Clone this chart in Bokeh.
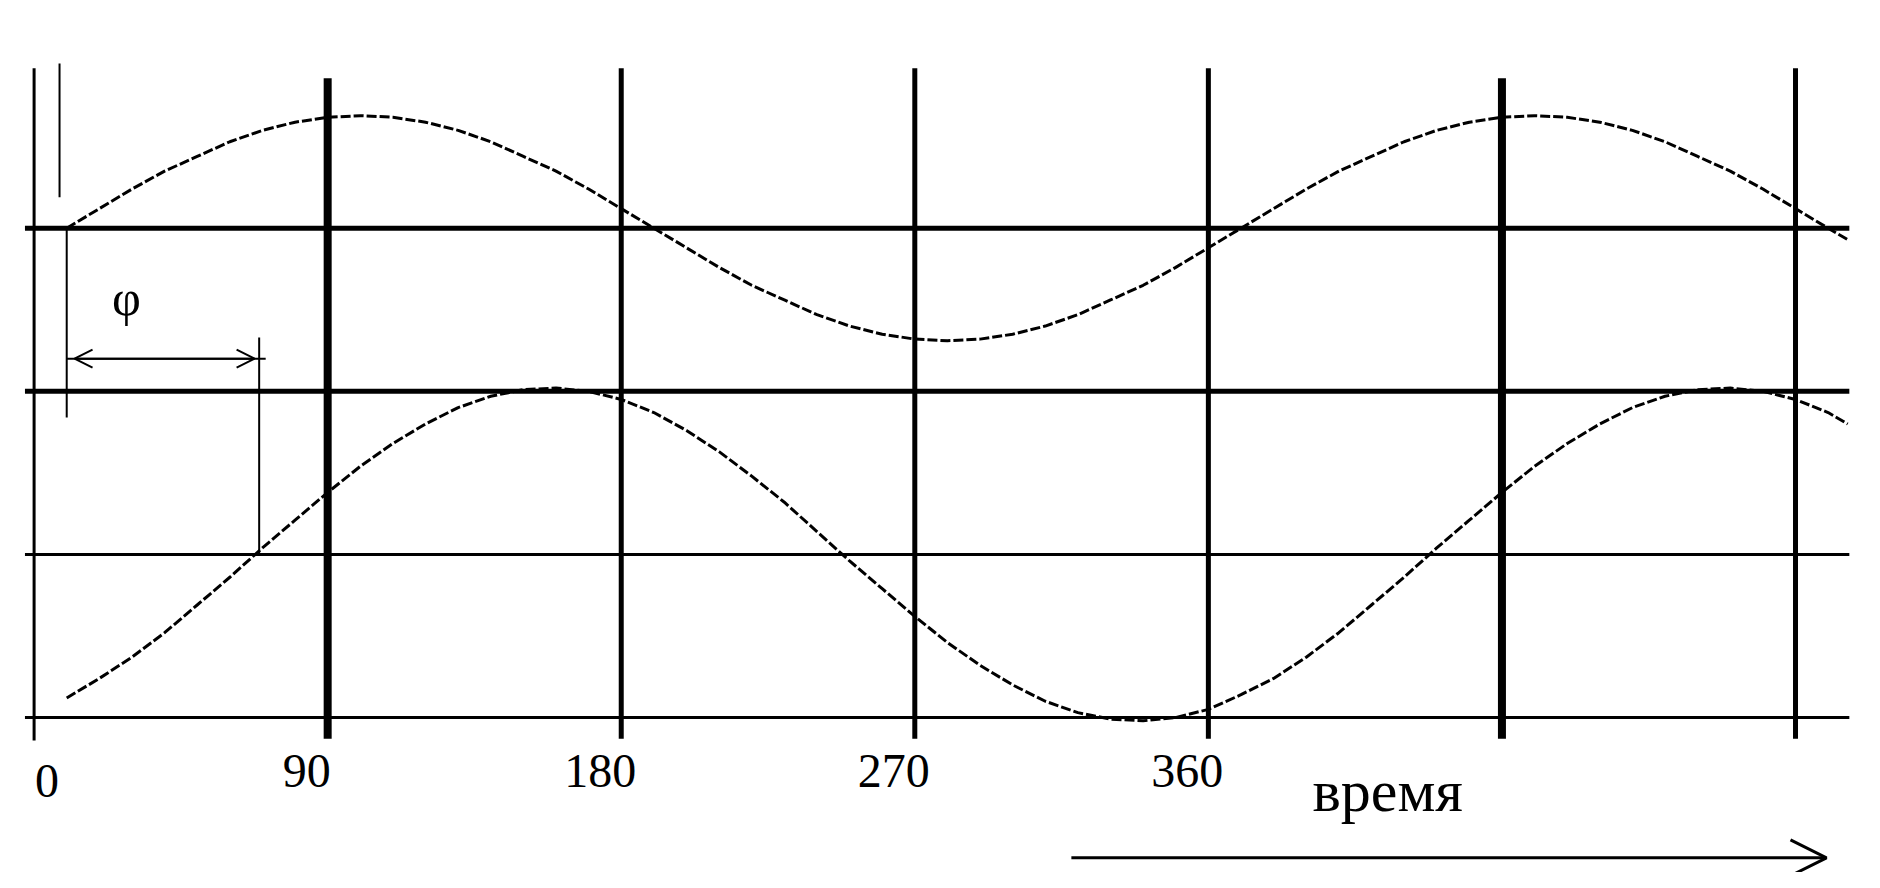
from bokeh.plotting import figure
from bokeh.models import Arrow, OpenHead, ColumnDataSource
from bokeh.core.properties import value
from bokeh.embed import file_html
from bokeh.resources import INLINE

# ---- data ----
# phase angle axis (degrees) with vertical grid lines
grid_degrees = [90, 180, 270, 360, 450, 540]
thick_degrees = [90, 450]
# horizontal reference levels
levels = [0, 1, 2, 3]
thick_levels = [2, 3]

tick_values = [0, 90, 180, 270, 360]
tick_labels = ["0", "90", "180", "270", "360"]

# upper wave (small amplitude, starts at ~10 degrees on level 3)
upper_x = [10, 20, 30, 40, 50, 60, 70, 80, 90, 100, 110, 120, 130, 140, 150,
           160, 170, 180, 190, 200, 210, 220, 230, 240, 250, 260, 270, 280,
           290, 300, 310, 320, 330, 340, 350, 360, 370, 380, 390, 400, 410,
           420, 430, 440, 450, 460, 470, 480, 490, 500, 510, 520, 530, 540,
           550, 556]
upper_y = [3.00, 3.12, 3.24, 3.35, 3.44, 3.53, 3.60, 3.65, 3.68, 3.69, 3.68,
           3.65, 3.60, 3.53, 3.44, 3.35, 3.24, 3.12, 3.00, 2.88, 2.76, 2.65,
           2.56, 2.47, 2.40, 2.35, 2.32, 2.31, 2.32, 2.35, 2.40, 2.47, 2.56,
           2.65, 2.76, 2.88, 3.00, 3.12, 3.24, 3.35, 3.44, 3.53, 3.60, 3.65,
           3.68, 3.69, 3.68, 3.65, 3.60, 3.53, 3.44, 3.35, 3.24, 3.12, 3.00,
           2.93]

# lower wave (large amplitude, around level 1)
lower_x = [10, 20, 30, 40, 50, 60, 70, 80, 90, 100, 110, 120, 130, 140, 150,
           160, 170, 180, 190, 200, 210, 220, 230, 240, 250, 260, 270, 280,
           290, 300, 310, 320, 330, 340, 350, 360, 370, 380, 390, 400, 410,
           420, 430, 440, 450, 460, 470, 480, 490, 500, 510, 520, 530, 540,
           550, 556]
lower_y = [0.12, 0.24, 0.37, 0.52, 0.69, 0.86, 1.04, 1.21, 1.38, 1.54, 1.68,
           1.80, 1.90, 1.97, 2.01, 2.02, 2.00, 1.95, 1.87, 1.76, 1.63, 1.48,
           1.32, 1.14, 0.96, 0.79, 0.62, 0.46, 0.32, 0.20, 0.10, 0.03, -0.01,
           -0.02, 0.00, 0.05, 0.14, 0.24, 0.37, 0.52, 0.69, 0.86, 1.04, 1.21,
           1.38, 1.54, 1.68, 1.80, 1.90, 1.97, 2.01, 2.02, 2.00, 1.95, 1.87,
           1.80]

# phase shift marker (degrees)
phi_start = 10
phi_end = 69

FONT = value("Liberation Serif")

p = figure(width=1864, height=872, x_range=(-10.3, 561.15), y_range=(-0.95, 4.396),
           output_backend="svg", toolbar_location=None,
           x_axis_type=None, y_axis_type=None, min_border=0)
p.outline_line_color = None
p.background_fill_color = "white"
p.border_fill_color = "white"

# horizontal reference lines
thin_lv = [v for v in levels if v not in thick_levels]
p.segment(x0=-2.8, y0=thin_lv, x1=556.5, y1=thin_lv, line_color="black", line_width=3)
p.segment(x0=-2.8, y0=thick_levels, x1=556.5, y1=thick_levels, line_color="black", line_width=5)

# vertical grid lines
thin_deg = [d for d in grid_degrees if d not in thick_degrees]
p.segment(x0=thin_deg, y0=-0.13, x1=thin_deg, y1=3.98, line_color="black", line_width=5)
p.segment(x0=thick_degrees, y0=-0.13, x1=thick_degrees, y1=3.92, line_color="black", line_width=8)

# left axis line and short marker
p.segment(x0=[0], y0=[-0.14], x1=[0], y1=[3.98], line_color="black", line_width=3)
p.segment(x0=[7.8], y0=[3.19], x1=[7.8], y1=[4.01], line_color="black", line_width=2)

# waves
p.line(upper_x, upper_y, line_color="black", line_width=3, line_dash="10 3")
p.line(lower_x, lower_y, line_color="black", line_width=3, line_dash="10 3")

# phase marker
p.segment(x0=[phi_start], y0=[levels[3]], x1=[phi_start], y1=[1.84], line_color="black", line_width=2)
p.segment(x0=[phi_end], y0=[2.33], x1=[phi_end], y1=[levels[1]], line_color="black", line_width=2)
p.segment(x0=[phi_start], y0=[2.2], x1=[phi_end + 2], y1=[2.2], line_color="black", line_width=2)
p.add_layout(Arrow(x_start=phi_start + 2.4, y_start=2.2, x_end=phi_end - 1.4, y_end=2.2,
                   start=OpenHead(size=18, line_width=2, line_color="black"),
                   end=OpenHead(size=18, line_width=2, line_color="black"),
                   line_width=2, line_color="black"))
p.text(x=[28.3], y=[2.57], text=["φ"], text_font=FONT, text_font_size="50px",
       text_align="center", text_baseline="alphabetic", text_color="black")

# tick labels
src = ColumnDataSource(dict(x=tick_values[1:], t=tick_labels[1:]))
p.text(x="x", y=-0.33, text="t", source=src, x_offset=-21, text_font=FONT,
       text_font_size="48px", text_align="center", text_baseline="alphabetic",
       text_color="black")
p.text(x=[tick_values[0]], y=[-0.39], text=[tick_labels[0]], x_offset=13, text_font=FONT,
       text_font_size="48px", text_align="center", text_baseline="alphabetic",
       text_color="black")

# time label and arrow
p.text(x=[391.9], y=[-0.45], text=["время"], text_font=FONT, text_font_size="60px",
       text_align="left", text_baseline="alphabetic", text_color="black")
p.add_layout(Arrow(x_start=318, y_start=-0.86, x_end=549.5, y_end=-0.86,
                   end=OpenHead(size=36, line_width=3, line_color="black"),
                   line_width=3, line_color="black"))

open("out.html", "w").write(file_html(p, INLINE))
